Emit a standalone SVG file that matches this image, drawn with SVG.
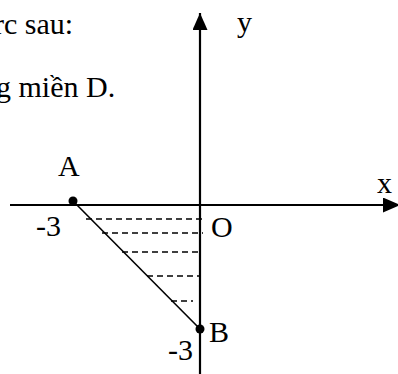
<svg xmlns="http://www.w3.org/2000/svg" width="398" height="374" viewBox="0 0 398 374">
<style>
.t{font-family:'Liberation Serif','Times New Roman',serif;font-size:30px;fill:#000}
.axis{stroke:#000;stroke-width:2.2;fill:none}
.dash{stroke:#000;stroke-width:1.5;stroke-dasharray:6,4;fill:none}
</style>
<defs>
<marker id="arr" viewBox="0 0 17 15" refX="17" refY="7.5" markerWidth="17" markerHeight="15" markerUnits="userSpaceOnUse" orient="auto">
<path d="M0,0 L17,7.5 L0,15 Z" fill="#000"/>
</marker>
</defs>
<rect width="398" height="374" fill="#fff"/>
<text class="t" x="-6" y="34">rc sau:</text>
<text class="t" x="-4" y="97">g miền D.</text>
<g id="connectors">
<line class="axis" x1="10" y1="205" x2="400" y2="205" marker-end="url(#arr)"/>
<line class="axis" x1="200" y1="374" x2="200" y2="13" marker-end="url(#arr)"/>
<line x1="73" y1="201" x2="200" y2="329" stroke="#000" stroke-width="1.6"/>
<line class="dash" x1="86" y1="219" x2="203" y2="219"/>
<line class="dash" x1="102" y1="233" x2="203" y2="233"/>
<line class="dash" x1="122" y1="252" x2="200" y2="252"/>
<line class="dash" x1="147" y1="276" x2="200" y2="276"/>
<line class="dash" x1="171" y1="301" x2="193" y2="301"/>
</g>
<g id="A"><circle cx="73" cy="201" r="4.5"/><text class="t" x="58" y="176">A</text></g>
<g id="B"><circle cx="200" cy="329" r="4.5"/><text class="t" x="209" y="342">B</text></g>
<g id="O"><text class="t" x="211" y="237">O</text></g>
<g id="xlabel"><text class="t" x="377" y="193">x</text></g>
<g id="ylabel"><text class="t" x="237" y="32">y</text></g>
<g id="m3x"><text class="t" x="36" y="236">-3</text></g>
<g id="m3y"><text class="t" x="168" y="360">-3</text></g>
</svg>
